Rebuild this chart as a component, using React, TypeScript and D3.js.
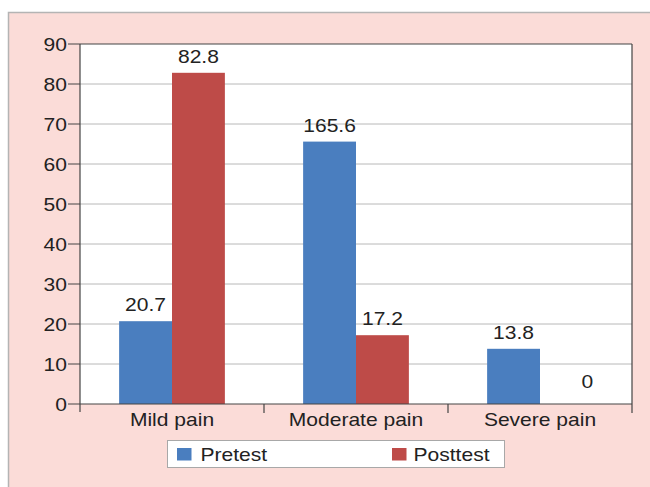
import React from "react";
import * as d3 from "d3";

const categories = ["Mild pain", "Moderate pain", "Severe pain"];
const seriesNames = ["Pretest", "Posttest"];
const pretest = [20.7, 65.6, 13.8];
const posttest = [82.8, 17.2, 0];
const pretestLabels = ["20.7", "165.6", "13.8"];
const posttestLabels = ["82.8", "17.2", "0"];
const yTicks = [0, 10, 20, 30, 40, 50, 60, 70, 80, 90];

const colors = ["#4a7ebf", "#be4b48"];
const FONT = "'Liberation Sans', Arial, sans-serif";
const FS = 18.8;
const SX = 1.12;

function T({ x, y, anchor = "start", children }: { x: number; y: number; anchor?: string; children: any }) {
  return (
    <text
      transform={`translate(${x},${y}) scale(${SX},1)`}
      textAnchor={anchor}
      fontFamily={FONT}
      fontSize={FS}
      fill="#222"
    >
      {children}
    </text>
  );
}

export default function App() {
  const W = 650, H = 487;
  const left = 80, right = 632, top = 44, bottom = 404;
  const y = d3.scaleLinear().domain([0, 90]).range([bottom, top]);
  const x0 = d3.scaleBand().domain(categories).range([left, right]).paddingInner(0).paddingOuter(0);
  const x1 = d3.scaleBand().domain(seriesNames).range([0, x0.bandwidth()]).paddingInner(0).paddingOuter(0.74);
  const series = [pretest, posttest];
  const labels = [pretestLabels, posttestLabels];
  return (
    <svg width={W} height={H} style={{ position: "absolute", left: 0, top: 0, display: "block" }}>
      <rect x={0} y={0} width={W} height={H} fill="#ffffff" />
      <rect x={8.5} y={12.5} width={W} height={H} fill="#fbdcd8" stroke="#b4b4b4" strokeWidth={1.5} />
      <rect x={left} y={top} width={right - left} height={bottom - top} fill="#ffffff" />
      {yTicks.map((t) => (
        <g key={t}>
          {t > 0 && t < 90 && (
            <line x1={left} x2={right} y1={y(t)} y2={y(t)} stroke="#b8b8b8" strokeWidth={1} />
          )}
          <line x1={left - 12} x2={left} y1={y(t)} y2={y(t)} stroke="#444" strokeWidth={1} />
          <T x={left - 13} y={y(t) + 6.6} anchor="end">
            {t}
          </T>
        </g>
      ))}
      {categories.map((c, ci) =>
        series.map((s, si) => {
          const bx = (x0(c) as number) + (x1(seriesNames[si]) as number);
          const bw = x1.bandwidth();
          const isZero = s[ci] === 0;
          return (
            <g key={c + si}>
              <rect x={bx} y={y(s[ci])} width={bw} height={bottom - y(s[ci])} fill={colors[si]} />
              <T x={bx + bw / 2 + (isZero ? 21 : 0)} y={y(s[ci]) - (isZero ? 16 : 10)} anchor="middle">
                {labels[si][ci]}
              </T>
            </g>
          );
        })
      )}
      <line x1={left} x2={right} y1={top} y2={top} stroke="#444" strokeWidth={1.2} />
      <line x1={right} x2={right} y1={top} y2={bottom} stroke="#444" strokeWidth={1.2} />
      <line x1={left} x2={left} y1={top} y2={bottom + 8} stroke="#444" strokeWidth={1.2} />
      <line x1={left} x2={right} y1={bottom} y2={bottom} stroke="#444" strokeWidth={1.2} />
      {categories.map((c) => (
        <g key={c}>
          <line
            x1={(x0(c) as number) + x0.bandwidth()}
            x2={(x0(c) as number) + x0.bandwidth()}
            y1={bottom}
            y2={bottom + 9}
            stroke="#444"
            strokeWidth={1.2}
          />
          <T x={(x0(c) as number) + x0.bandwidth() / 2} y={426} anchor="middle">
            {c}
          </T>
        </g>
      ))}
      <rect x={167.5} y={440.5} width={337} height={27} fill="#ffffff" stroke="#a8a8a8" strokeWidth={1} />
      {seriesNames.map((n, i) => {
        const lx = i === 0 ? 177 : 392;
        return (
          <g key={n}>
            <rect x={lx} y={448} width={14.5} height={12.5} fill={colors[i]} />
            <T x={lx + (i === 0 ? 23.5 : 21.5)} y={461} anchor="start">
              {n}
            </T>
          </g>
        );
      })}
    </svg>
  );
}
